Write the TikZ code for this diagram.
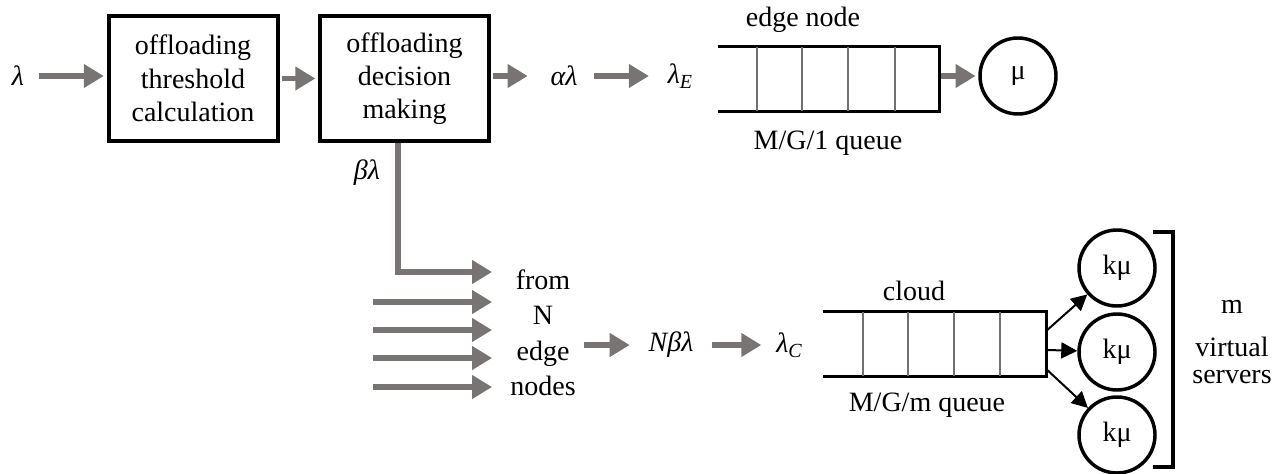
\documentclass[tikz,border=0pt]{standalone}
\usepackage{fontspec}
\setmainfont{Liberation Serif}
\usetikzlibrary{arrows.meta,calc}
\definecolor{agray}{RGB}{120,116,116}
\definecolor{dgray}{RGB}{112,112,112}
\begin{document}
\begin{tikzpicture}[x=0.75pt,y=-0.75pt,
  every node/.style={font=\fontsize{21}{25}\selectfont, inner sep=0pt},
  garrow/.style={draw=agray, line width=3.8pt, -{Triangle[length=15pt,width=17pt]}},
  barrow/.style={draw=black, line width=1.5pt, -{Triangle[length=12pt,width=12pt]}},
  procbox/.style={draw, line width=3pt, minimum width=126.75pt, minimum height=93.75pt, align=center},
  server/.style={circle, draw, line width=2.6pt, minimum size=57pt},
  qline/.style={line width=2.2pt},
  qdiv/.style={draw=dgray, line width=1.5pt},
  lbl/.style={align=center}
]
\useasboundingbox (0,0) rectangle (1281,474);

% top row
\node (lam) at (18,76) {\itshape λ};
\node[procbox] (b1) at (193,78.5) {offloading\\threshold\\calculation};
\node[procbox] (b2) at (404.5,78.5) {offloading\\decision\\making};
\node (al) at (564,76) {\itshape αλ};
\node (lE) at (680,76) {\itshape λ\raisebox{-4pt}{\fontsize{15}{15}\selectfont E}};
\node[minimum width=165.75pt, minimum height=48pt] (eq) at (828.5,79) {};
\node[server] (mu) at (1018,76) {μ};
\node[anchor=base] (eqt) at (803,27) {edge node};
\node[anchor=base] (eqb) at (828,150) {M/G/1 queue};

\draw[qline] (eq.north west) -- (eq.north east) -- (eq.south east) -- (eq.south west);
\foreach \f in {0.176,0.380,0.588,0.801}
  \draw[qdiv] ($(eq.north west)!\f!(eq.north east)$) -- ($(eq.south west)!\f!(eq.south east)$);

\draw[garrow, shorten <=11pt, shorten >=2pt] (lam.east) -- (lam.east -| b1.west);
\draw[garrow, shorten <=1.5pt, shorten >=2pt] (b1.east) -- (b2.west);
\draw[garrow, shorten <=1.5pt, shorten >=17pt] (b2.east |- al.west) -- (al.west);
\draw[garrow, shorten <=12.5pt, shorten >=14pt] (al.east) -- (lE.west);
\draw[garrow, shorten <=1.5pt, shorten >=2pt] (eq.east |- mu) -- (mu);

% lower part
\node (bl) at (367,173) {\itshape βλ};
\node[lbl, font=\fontsize{21}{26.6}\selectfont] (fr) at (543,333) {from\\N\\edge\\nodes};
\node (Nb) at (671,345) {\itshape Nβλ};
\node (lC) at (789,345) {\itshape λ\raisebox{-4pt}{\fontsize{15}{15}\selectfont C}};

\coordinate (s1) at (373,302);
\coordinate (s2) at (373,330);
\coordinate (s3) at (373,358);
\coordinate (s4) at (373,387);
\coordinate (turn) at (398,272);

\draw[garrow, shorten >=13.5pt] ($(b2.south)+(-6.5,0)$) |- (turn -| fr.west);
\foreach \s in {s1,s2,s3,s4}
  \draw[garrow, shorten >=13.5pt] (\s) -- (\s -| fr.west);
\draw[garrow, shorten <=6pt, shorten >=14pt] (fr.east |- Nb) -- (Nb.west);
\draw[garrow, shorten <=14pt, shorten >=11pt] (Nb.east) -- (lC.west);

% cloud queue
\node[minimum width=167.25pt, minimum height=48pt] (cq) at (934.5,344) {};
\draw[qline] (cq.north west) -- (cq.north east) -- (cq.south east) -- (cq.south west);
\foreach \f in {0.179,0.381,0.587,0.794}
  \draw[qdiv] ($(cq.north west)!\f!(cq.north east)$) -- ($(cq.south west)!\f!(cq.south east)$);
\node[anchor=base] (cqt) at (914,300) {cloud};
\node[anchor=base] (cqb) at (927,411) {M/G/m queue};

\node[server] (c1) at (1117,268) {kμ};
\node[server] (c2) at (1117,352) {kμ};
\node[server] (c3) at (1117,435) {kμ};

\draw[barrow] ($(cq.east)+(1,-14)$) -- (c1);
\draw[barrow] ($(cq.east)+(1,6)$) -- (c2);
\draw[barrow] ($(cq.east)+(1,26)$) -- (c3);

\draw[line width=2.5pt] (1153,232) -- (1173,232) -- (1173,467) -- (1153,467);
\node[lbl, font=\fontsize{21}{20}\selectfont] (mv) at (1232,342) {m\\[12pt]virtual\\servers};
\end{tikzpicture}
\end{document}
